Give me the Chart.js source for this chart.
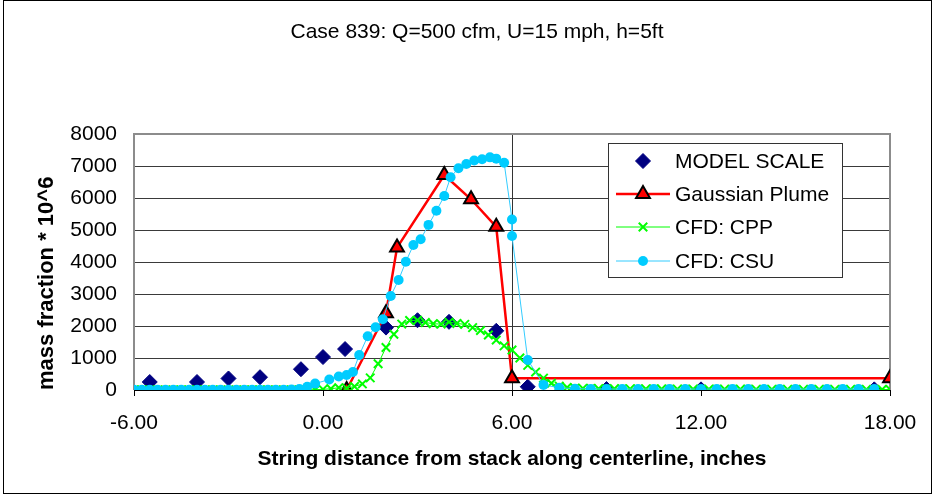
<!DOCTYPE html>
<html>
<head>
<meta charset="utf-8">
<title>Case 839</title>
<script src="https://cdn.jsdelivr.net/npm/chart.js@4.4.0/dist/chart.umd.min.js"></script>
<style>
  html, body { margin: 0; padding: 0; background: #fff; }
  #wrap { width: 935px; height: 496px; }
</style>
</head>
<body>
<div id="wrap"><canvas id="chart" width="935" height="496"></canvas></div>
<script>
// Axis ticks
const xTicks = [-6, 0, 6, 12, 18];
const yTicks = [0, 1000, 2000, 3000, 4000, 5000, 6000, 7000, 8000];

// MODEL SCALE (wind tunnel)
const modelX = [-5.5, -4.0, -3.0, -2.0, -0.7, 0.0, 0.7, 2.0, 3.0, 4.0, 5.5, 6.5, 9.0, 12.0, 17.5];
const modelY = [250, 250, 360, 400, 650, 1030, 1280, 1950, 2180, 2130, 1850, 100, 30, 20, 20];

// Gaussian Plume
const gaussX = [0.75, 2.0, 2.35, 3.85, 4.7, 5.5, 6.0, 18.0];
const gaussY = [0, 2400, 4450, 6720, 5960, 5100, 370, 370];

// CFD: CPP
const cppX = [
  -6.00, -5.75, -5.50, -5.25, -5.00, -4.75, -4.50, -4.25, -4.00, -3.75, -3.50, -3.25,
  -3.00, -2.75, -2.50, -2.25, -2.00, -1.75, -1.50, -1.25, -1.00, -0.75, -0.50, -0.25,
  0.00, 0.25, 0.50, 0.75, 1.00, 1.25, 1.50, 1.75, 2.00, 2.25, 2.50, 2.75,
  3.00, 3.25, 3.50, 3.75, 4.00, 4.25, 4.50, 4.75, 5.00, 5.25, 5.50, 5.75,
  6.00, 6.25, 6.50, 6.75, 7.00, 7.25, 7.50, 7.75, 8.00, 8.25, 8.50, 8.75,
  9.00, 9.25, 9.50, 9.75, 10.00, 10.25, 10.50, 10.75, 11.00, 11.25, 11.50, 11.75,
  12.00, 12.25, 12.50, 12.75, 13.00, 13.25, 13.50, 13.75, 14.00, 14.25, 14.50, 14.75,
  15.00, 15.25, 15.50, 15.75, 16.00, 16.25, 16.50, 16.75, 17.00, 17.25, 17.50, 17.75, 18.00
];
const cppY = [
  0, 0, 0, 0, 0, 0, 0, 0, 0, 0, 0, 0,
  0, 0, 0, 0, 0, 0, 0, 0, 0, 0, 5, 10,
  20, 40, 70, 60, 110, 190, 380, 820, 1330, 1740, 2060, 2170,
  2180, 2110, 2070, 2060, 2120, 2080, 2050, 1950, 1860, 1720, 1560, 1380,
  1250, 1000, 770, 560, 370, 210, 120, 80, 60, 50, 45, 40,
  40, 38, 35, 35, 33, 32, 30, 30, 28, 28, 27, 26,
  25, 25, 24, 24, 23, 22, 22, 21, 21, 20, 20, 20,
  19, 19, 18, 18, 18, 17, 17, 17, 16, 16, 16, 15, 15
];

// CFD: CSU
const csuX = [
  -6.00, -5.75, -5.50, -5.25, -5.00, -4.75, -4.50, -4.25, -4.00, -3.75, -3.50, -3.25,
  -3.00, -2.75, -2.50, -2.25, -2.00, -1.75, -1.50, -1.25, -1.00, -0.75, -0.50, -0.25,
  0.20, 0.50, 0.75, 0.95, 1.15, 1.42, 1.67, 1.90, 2.15, 2.40, 2.63, 2.87,
  3.10, 3.35, 3.60, 3.85, 4.05, 4.30, 4.55, 4.80, 5.05, 5.30, 5.50, 5.75,
  6.00, 6.00, 6.50, 7.00, 7.50, 8.00, 8.50, 9.00, 9.50, 10.00, 10.50, 11.00,
  11.50, 12.00, 12.50, 13.00, 13.50, 14.00, 14.50, 15.00, 15.50, 16.00, 16.50, 17.00, 17.50
];
const csuY = [
  5, 5, 5, 5, 5, 5, 5, 5, 5, 5, 5, 5,
  5, 5, 5, 5, 5, 5, 5, 10, 15, 30, 100, 200,
  330, 420, 470, 560, 1090, 1680, 1960, 2210, 2940, 3440, 4010, 4530,
  4710, 5160, 5600, 6060, 6650, 6930, 7060, 7170, 7210, 7270, 7230, 7100,
  5330, 4810, 940, 160, 70, 40, 35, 30, 30, 30, 30, 30,
  30, 30, 30, 30, 30, 30, 30, 30, 30, 30, 30, 30, 30
];

const chartTitle = 'Case 839: Q=500 cfm, U=15 mph, h=5ft';

function toPoints(xs, ys) {
  return xs.map((x, i) => ({ x: x, y: ys[i] }));
}

const FONT = "'Liberation Sans', Arial, sans-serif";

function drawMarker(ctx, style, r, x, y) {
  ctx.beginPath();
  if (style === 'rectRot') {
    ctx.moveTo(x, y - r); ctx.lineTo(x + r, y); ctx.lineTo(x, y + r); ctx.lineTo(x - r, y);
    ctx.closePath(); ctx.fill(); ctx.stroke();
  } else if (style === 'triangle') {
    // same geometry as Chart.js triangle
    const size = r;
    const cornerRadius = size * 0.516;
    ctx.moveTo(x, y - size);
    ctx.lineTo(x + size * 0.866, y + size * 0.5);
    ctx.lineTo(x - size * 0.866, y + size * 0.5);
    ctx.closePath(); ctx.fill(); ctx.stroke();
  } else if (style === 'crossRot') {
    const d = r * Math.SQRT1_2;
    ctx.moveTo(x - d, y - d); ctx.lineTo(x + d, y + d);
    ctx.moveTo(x + d, y - d); ctx.lineTo(x - d, y + d);
    ctx.stroke();
  } else {
    ctx.arc(x, y, r, 0, Math.PI * 2);
    ctx.fill();
  }
}

// frame, outer border, vertical axis at x=6, title and the in-plot legend
const excelLook = {
  id: 'excelLook',
  beforeDatasetsDraw(chart) {
    const { ctx, chartArea: a, scales } = chart;
    ctx.save();
    // vertical axis line crossing at x = 6
    const x6 = Math.round(scales.x.getPixelForValue(6)) + 0.5;
    ctx.strokeStyle = '#333';
    ctx.lineWidth = 1;
    ctx.beginPath();
    ctx.moveTo(x6, a.top);
    ctx.lineTo(x6, a.bottom);
    ctx.stroke();
    // gray plot-area border (left, top, right)
    ctx.strokeStyle = '#8c8c8c';
    ctx.lineWidth = 2;
    ctx.beginPath();
    ctx.moveTo(a.left, a.bottom);
    ctx.lineTo(a.left, a.top);
    ctx.lineTo(a.right, a.top);
    ctx.lineTo(a.right, a.bottom);
    ctx.stroke();
    // black bottom axis
    ctx.strokeStyle = '#000';
    ctx.lineWidth = 1;
    ctx.beginPath();
    ctx.moveTo(a.left, Math.round(a.bottom) + 0.5);
    ctx.lineTo(a.right, Math.round(a.bottom) + 0.5);
    ctx.stroke();
    ctx.restore();
  },
  afterDraw(chart) {
    const { ctx } = chart;
    ctx.save();
    // outer chart border
    ctx.strokeStyle = '#000';
    ctx.lineWidth = 1;
    ctx.strokeRect(3.5, 0.5, 928, 493);

    // chart title
    ctx.fillStyle = '#000';
    ctx.font = '21px ' + FONT;
    ctx.textAlign = 'center';
    ctx.textBaseline = 'middle';
    ctx.fillText(chartTitle, 477, 32);

    // legend box
    const bx = 608, by = 143, bw = 234, bh = 134;
    ctx.fillStyle = '#fff';
    ctx.fillRect(bx, by, bw, bh);
    ctx.strokeStyle = '#333';
    ctx.lineWidth = 1;
    ctx.strokeRect(bx + 0.5, by + 0.5, bw, bh);

    const rowsY = [161, 194, 227, 261];
    chart.data.datasets.forEach((ds, i) => {
      const y = rowsY[i];
      if (ds.showLine) {
        ctx.strokeStyle = ds.borderColor;
        ctx.lineWidth = ds.borderWidth;
        ctx.beginPath();
        ctx.moveTo(616, y);
        ctx.lineTo(670, y);
        ctx.stroke();
      }
      ctx.fillStyle = ds.pointBackgroundColor;
      ctx.strokeStyle = ds.pointBorderColor;
      ctx.lineWidth = ds.pointBorderWidth;
      drawMarker(ctx, ds.pointStyle, ds.pointRadius, 643, y);
      ctx.fillStyle = '#000';
      ctx.font = '21px ' + FONT;
      ctx.textAlign = 'left';
      ctx.textBaseline = 'middle';
      ctx.fillText(ds.label, 675, y + 1);
    });
    ctx.restore();
  }
};

const ctx = document.getElementById('chart').getContext('2d');
new Chart(ctx, {
  type: 'scatter',
  data: {
    datasets: [
      {
        label: 'MODEL SCALE',
        data: toPoints(modelX, modelY),
        showLine: false,
        pointStyle: 'rectRot',
        pointRadius: 7.5,
        pointBorderWidth: 1,
        pointBackgroundColor: '#000080',
        pointBorderColor: '#000080',
        borderColor: '#000080',
        borderWidth: 0,
        order: 4
      },
      {
        label: 'Gaussian Plume',
        data: toPoints(gaussX, gaussY),
        showLine: true,
        borderColor: '#ff0000',
        borderWidth: 2.5,
        pointStyle: 'triangle',
        pointRadius: 8,
        pointBorderWidth: 2,
        pointBackgroundColor: '#ff0000',
        pointBorderColor: '#000',
        order: 3
      },
      {
        label: 'CFD: CPP',
        data: toPoints(cppX, cppY),
        showLine: true,
        borderColor: '#00ff00',
        borderWidth: 1,
        pointStyle: 'crossRot',
        pointRadius: 6,
        pointBorderWidth: 2,
        pointBackgroundColor: '#00ff00',
        pointBorderColor: '#00ff00',
        order: 2
      },
      {
        label: 'CFD: CSU',
        data: toPoints(csuX, csuY),
        showLine: true,
        borderColor: '#33ccff',
        borderWidth: 1,
        pointStyle: 'circle',
        pointRadius: 5,
        pointBorderWidth: 0,
        pointBackgroundColor: '#00ccff',
        pointBorderColor: '#00ccff',
        order: 1
      }
    ]
  },
  options: {
    responsive: false,
    animation: false,
    layout: { padding: { left: 0, right: 45, top: 134, bottom: 0 } },
    plugins: {
      legend: { display: false },
      tooltip: { enabled: false },
      title: { display: false }
    },
    scales: {
      x: {
        type: 'linear',
        min: -6,
        max: 18,
        afterBuildTicks: (scale) => { scale.ticks = xTicks.map(v => ({ value: v })); },
        afterFit: (scale) => { scale.height = 106; },
        grid: { drawOnChartArea: false, drawTicks: true, tickLength: 6, color: '#000' },
        border: { display: false },
        ticks: {
          color: '#000',
          padding: 15,
          maxRotation: 0,
          font: { family: FONT, size: 21 },
          callback: (v) => Number(v).toFixed(2)
        },
        title: {
          display: true,
          text: 'String distance from stack along centerline, inches',
          color: '#000',
          font: { family: FONT, size: 21, weight: 'bold' },
          padding: { top: 0, bottom: 24 }
        }
      },
      y: {
        type: 'linear',
        min: 0,
        max: 8000,
        afterBuildTicks: (scale) => { scale.ticks = yTicks.map(v => ({ value: v })); },
        afterFit: (scale) => { scale.width = 134; },
        grid: { drawTicks: false, color: '#3a3a3a', lineWidth: 1 },
        border: { display: false },
        ticks: {
          color: '#000',
          padding: 17,
          font: { family: FONT, size: 21 },
          callback: (v) => String(v)
        },
        title: {
          display: true,
          text: 'mass fraction * 10^6',
          align: 'start',
          color: '#000',
          font: { family: FONT, size: 22, weight: 'bold' },
          padding: { top: 34, bottom: 0 }
        }
      }
    }
  },
  plugins: [excelLook]
});
</script>
</body>
</html>
